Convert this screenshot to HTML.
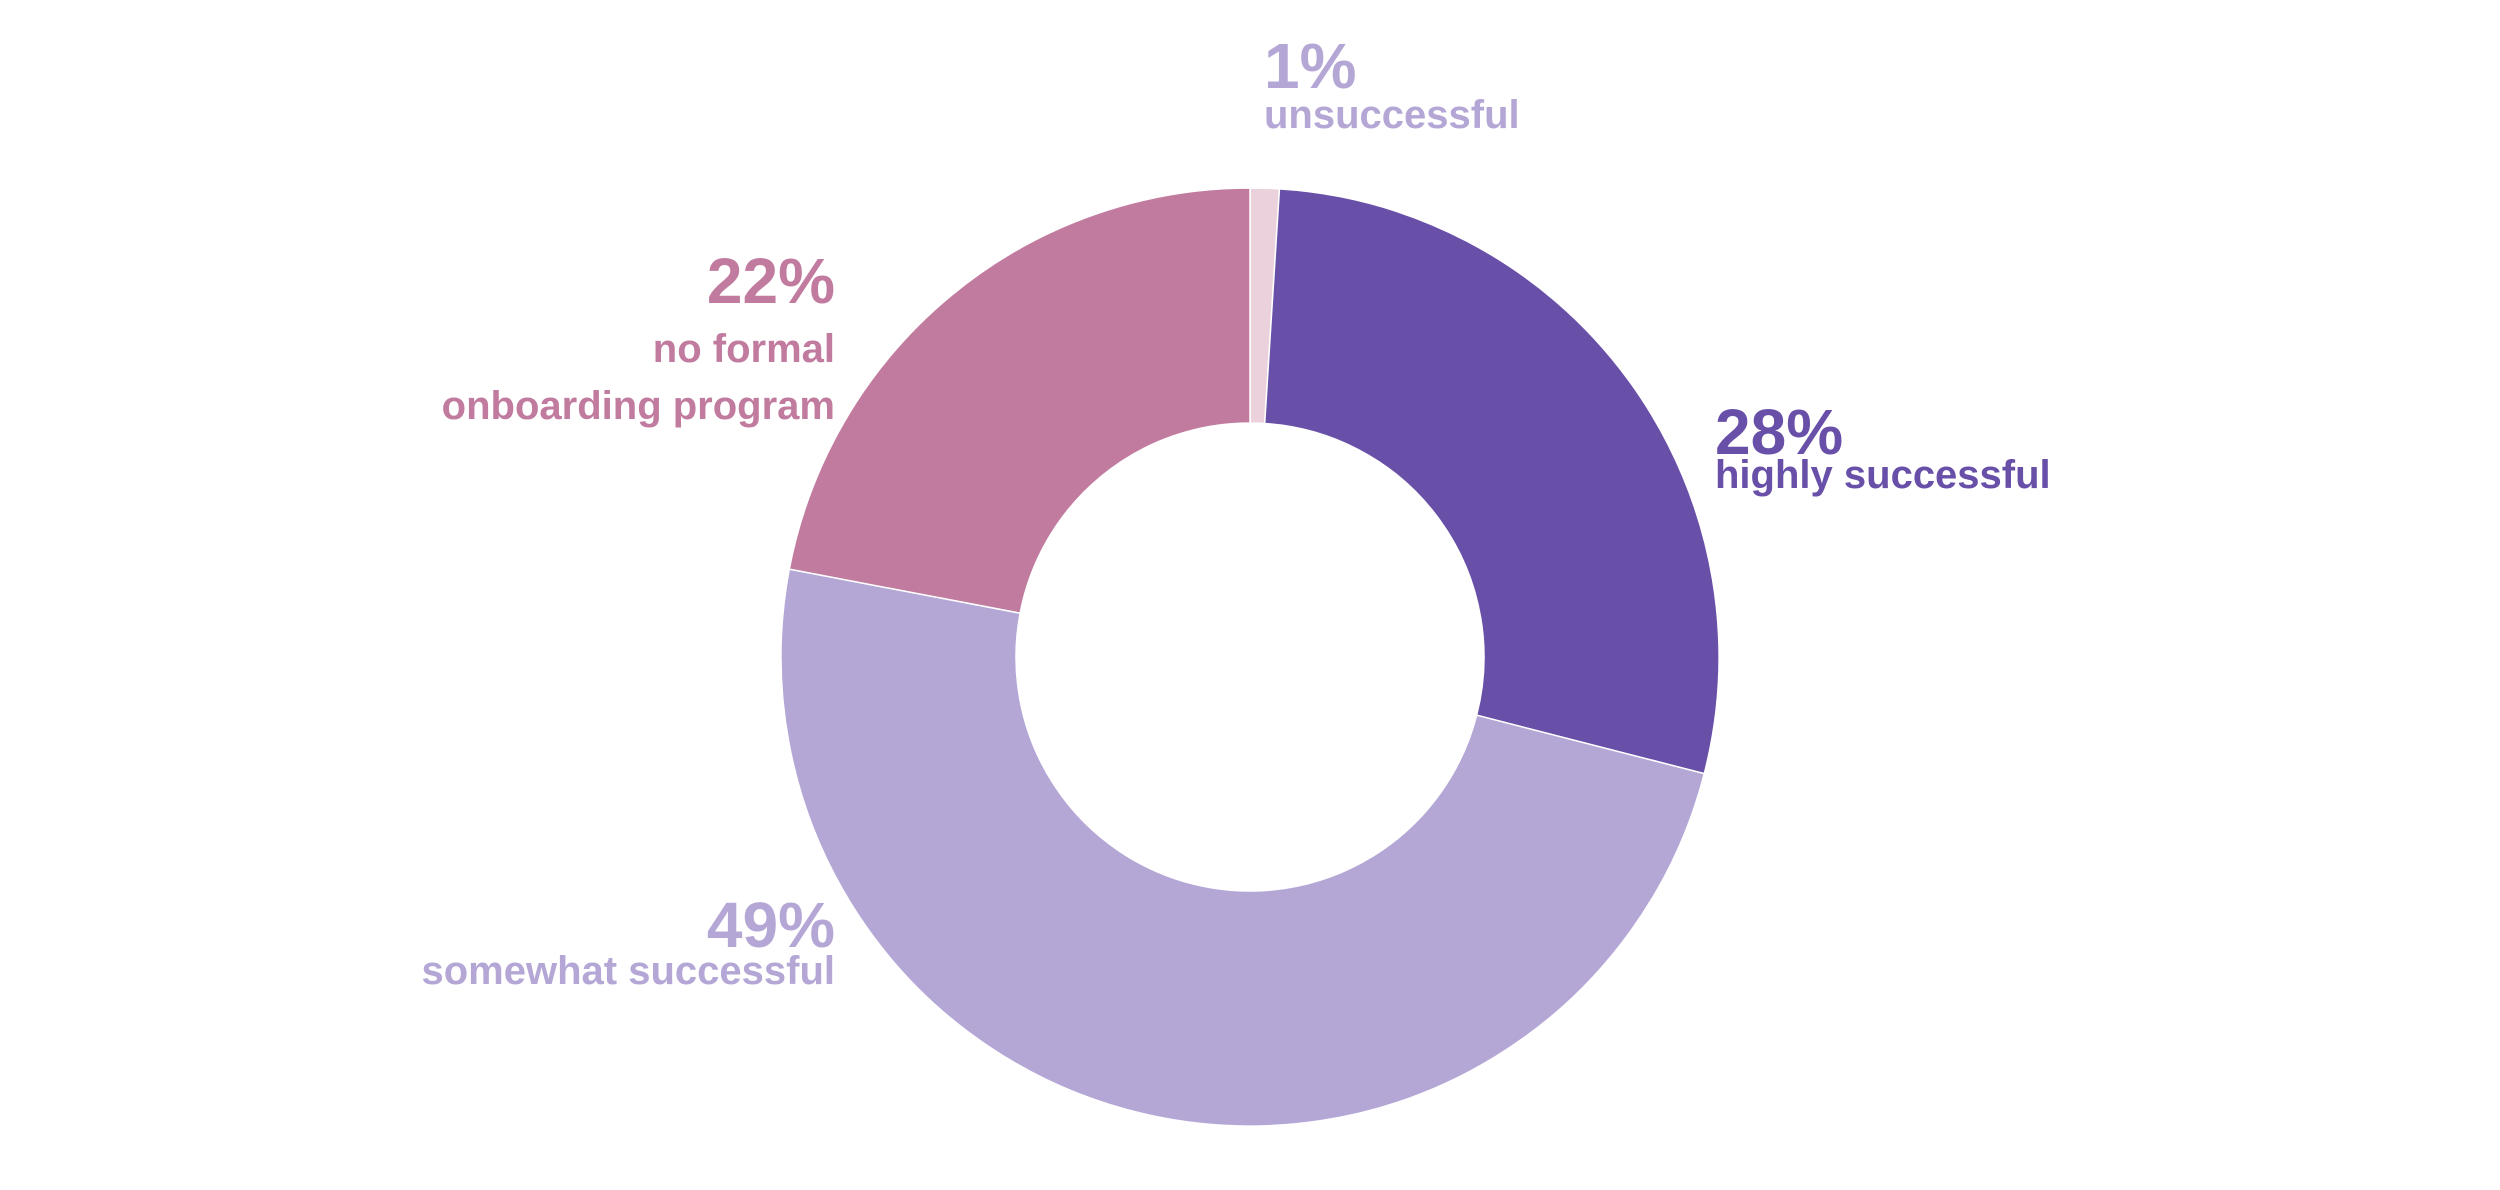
<!DOCTYPE html>
<html><head><meta charset="utf-8"><style>
html,body{margin:0;padding:0;background:#fff;}
svg{display:block;font-family:"Liberation Sans",sans-serif;font-weight:bold;}
</style></head><body>
<svg id="chart" width="2500" height="1190" viewBox="0 0 2500 1190" xmlns="http://www.w3.org/2000/svg">
<g id="slices"></g>
<g id="labels"></g>
</svg>
<script>
const categories = ["unsuccessful", "highly successful", "somewhat successful", "no formal onboarding program"];
const values = [1, 28, 49, 22];
const valueLabels = ["1%", "28%", "49%", "22%"];
const colors = ["#EAD1DC", "#684FA8", "#B4A7D6", "#C17B9F"];
const labelColors = ["#B4A7D6", "#684FA8", "#B4A7D6", "#C17B9F"];

const cx = 1250, cy = 657, R = 469, r = 234;
const NS = "http://www.w3.org/2000/svg";
const total = values.reduce((a, b) => a + b, 0);
function pt(a, rad) { return [cx + rad * Math.sin(a), cy - rad * Math.cos(a)]; }
const gS = document.getElementById("slices");
let acc = 0;
values.forEach((v, i) => {
  const a0 = acc / total * 2 * Math.PI; acc += v;
  const a1 = acc / total * 2 * Math.PI;
  const large = (a1 - a0) > Math.PI ? 1 : 0;
  const p0 = pt(a0, R), p1 = pt(a1, R), q1 = pt(a1, r), q0 = pt(a0, r);
  const d = `M${p0[0]},${p0[1]} A${R},${R} 0 ${large} 1 ${p1[0]},${p1[1]} L${q1[0]},${q1[1]} A${r},${r} 0 ${large} 0 ${q0[0]},${q0[1]} Z`;
  const p = document.createElementNS(NS, "path");
  p.setAttribute("d", d);
  p.setAttribute("fill", colors[i]);
  p.setAttribute("stroke", "#fff");
  p.setAttribute("stroke-width", "1.5");
  
  
  gS.appendChild(p);
});

// label layout (positions, not data)
const layout = [
  { x: 1264, anchor: "start", pctY: 88, lines: ["unsuccessful"], lineY: [128] },
  { x: 1715, anchor: "start", pctY: 454, lines: ["highly successful"], lineY: [488] },
  { x: 835, anchor: "end", pctY: 947, lines: ["somewhat successful"], lineY: [984] },
  { x: 835, anchor: "end", pctY: 303, lines: ["no formal", "onboarding program"], lineY: [362, 419] }
];
const gL = document.getElementById("labels");
layout.forEach((L, i) => {
  const t = document.createElementNS(NS, "text");
  t.setAttribute("x", L.x); t.setAttribute("y", L.pctY);
  t.setAttribute("text-anchor", L.anchor);
  t.setAttribute("font-size", "64"); t.setAttribute("fill", labelColors[i]);
  t.textContent = valueLabels[i];
  
  
  gL.appendChild(t);
  L.lines.forEach((s, j) => {
    const c = document.createElementNS(NS, "text");
    c.setAttribute("x", L.x); c.setAttribute("y", L.lineY[j]);
    c.setAttribute("text-anchor", L.anchor);
    c.setAttribute("font-size", "40"); c.setAttribute("fill", labelColors[i]);
    c.textContent = s;
    
    
    gL.appendChild(c);
  });
});
</script>
</body></html>
